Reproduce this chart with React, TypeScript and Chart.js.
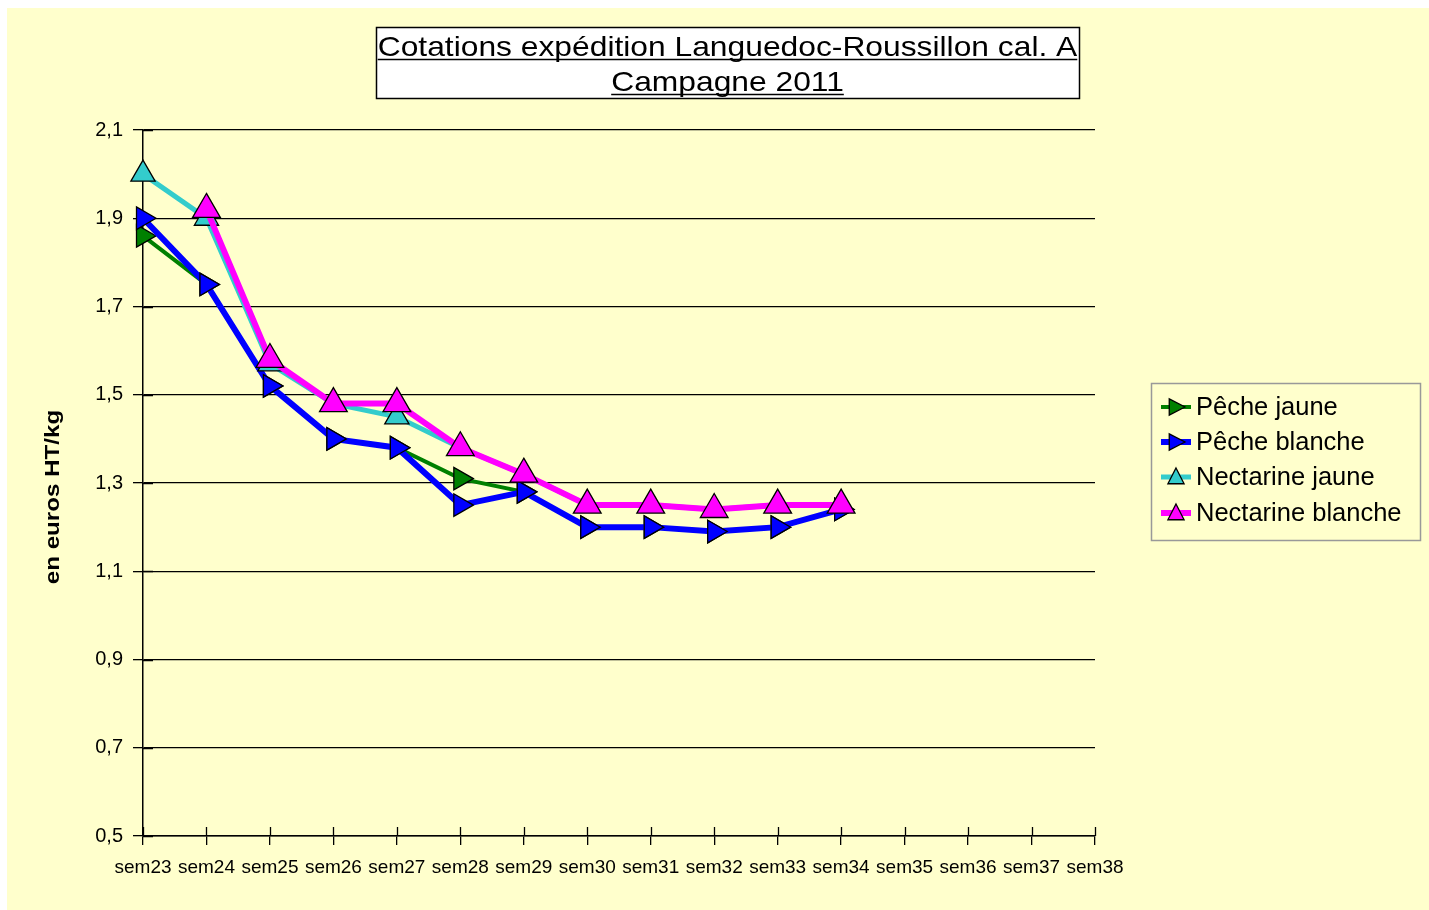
import React, { useEffect, useRef } from "react";
import { Chart, registerables } from "chart.js";
Chart.register(...registerables);

const categories = ["sem23", "sem24", "sem25", "sem26", "sem27", "sem28", "sem29", "sem30", "sem31", "sem32", "sem33", "sem34", "sem35", "sem36", "sem37", "sem38"];
const pecheJaune = [1.86, 1.75, 1.52, 1.40, 1.38, 1.31, 1.28, 1.20, 1.20, 1.19, 1.20, 1.24, null, null, null, null];
const pecheBlanche = [1.90, 1.75, 1.52, 1.40, 1.38, 1.25, 1.28, 1.20, 1.20, 1.19, 1.20, 1.24, null, null, null, null];
const nectarineJaune = [2.00, 1.90, 1.57, 1.48, 1.45, 1.38, 1.32, 1.25, 1.25, 1.24, 1.25, 1.25, null, null, null, null];
const nectarineBlanche = [null, 1.92, 1.58, 1.48, 1.48, 1.38, 1.32, 1.25, 1.25, 1.24, 1.25, 1.25, null, null, null, null];
const seriesNames = ["Pêche jaune", "Pêche blanche", "Nectarine jaune", "Nectarine blanche"];
const yTicks = [0.5, 0.7, 0.9, 1.1, 1.3, 1.5, 1.7, 1.9, 2.1];
const titleLines = ["Cotations expédition Languedoc-Roussillon cal. A", "Campagne 2011"];
const yAxisTitle = "en euros HT/kg";

const FONT = "'Liberation Sans', Arial, sans-serif";

function tri(ctx: CanvasRenderingContext2D, x: number, y: number, r: number, rot: number, fill: string) {
  ctx.save();
  ctx.translate(x, y);
  ctx.rotate(rot);
  ctx.beginPath();
  ctx.moveTo(0, -r);
  ctx.lineTo(r * 0.9, r * 0.75);
  ctx.lineTo(-r * 0.9, r * 0.75);
  ctx.closePath();
  ctx.fillStyle = fill;
  ctx.fill();
  ctx.lineWidth = 1.3;
  ctx.strokeStyle = "#000";
  ctx.stroke();
  ctx.restore();
}

const decorPlugin = {
  id: "decor",
  beforeDraw(chart: any) {
    const ctx = chart.ctx as CanvasRenderingContext2D;
    ctx.save();
    ctx.fillStyle = "#ffffff";
    ctx.fillRect(0, 0, chart.width, chart.height);
    ctx.fillStyle = "#ffffcc";
    ctx.fillRect(7, 8, chart.width - 7, chart.height - 8);
    ctx.restore();
  },
  beforeDatasetsDraw(chart: any) {
    const ctx = chart.ctx as CanvasRenderingContext2D;
    const xs = chart.scales.x;
    const ys = chart.scales.y;
    ctx.save();
    ctx.strokeStyle = "#000";
    ctx.lineWidth = 1.3;
    ctx.beginPath();
    for (let i = 0; i < categories.length; i++) {
      const px = Math.round(xs.getPixelForValue(i)) + 0.5;
      ctx.moveTo(px, ys.bottom);
      ctx.lineTo(px, ys.bottom - 9);
    }
    for (const t of yTicks) {
      const py = Math.round(ys.getPixelForValue(t)) + 0.5;
      ctx.moveTo(xs.left, py);
      ctx.lineTo(xs.left + 10, py);
    }
    ctx.stroke();
    ctx.restore();
  },
  afterDraw(chart: any) {
    const ctx = chart.ctx as CanvasRenderingContext2D;
    ctx.save();
    // Title box
    ctx.fillStyle = "#ffffff";
    ctx.fillRect(376, 27, 703, 71);
    ctx.strokeStyle = "#000";
    ctx.lineWidth = 1.5;
    ctx.strokeRect(376.5, 27.5, 703, 71);
    ctx.fillStyle = "#000";
    ctx.font = `28px ${FONT}`;
    ctx.textAlign = "center";
    ctx.textBaseline = "alphabetic";
    const cx = 727.5;
    const bases = [56, 91];
    const sx = 1.135;
    titleLines.forEach((line, i) => {
      ctx.save();
      ctx.translate(cx, bases[i]);
      ctx.scale(sx, 1);
      ctx.fillText(line, 0, 0);
      ctx.restore();
      const w = ctx.measureText(line).width * sx;
      ctx.beginPath();
      ctx.lineWidth = 1.5;
      ctx.moveTo(cx - w / 2, bases[i] + 3.5);
      ctx.lineTo(cx + w / 2, bases[i] + 3.5);
      ctx.stroke();
    });
    // Y axis title
    ctx.save();
    ctx.translate(53, 497);
    ctx.rotate(-Math.PI / 2);
    ctx.scale(1.15, 1);
    ctx.font = `bold 21px ${FONT}`;
    ctx.textAlign = "center";
    ctx.textBaseline = "middle";
    ctx.fillText(yAxisTitle, 0, 0);
    ctx.restore();
    // Legend
    ctx.fillStyle = "#ffffcc";
    ctx.fillRect(1151, 383, 269, 157);
    ctx.strokeStyle = "#999999";
    ctx.lineWidth = 1.5;
    ctx.strokeRect(1151.5, 383.5, 269, 157);
    const rows = [407, 442, 477, 513];
    chart.data.datasets.forEach((ds: any, i: number) => {
      const y = rows[i];
      ctx.beginPath();
      ctx.strokeStyle = ds.borderColor;
      ctx.lineWidth = ds.borderWidth;
      ctx.moveTo(1161, y);
      ctx.lineTo(1191, y);
      ctx.stroke();
      tri(ctx, 1176, y, 9, ds.pointRotation * Math.PI / 180, ds.pointBackgroundColor);
      ctx.fillStyle = "#000";
      ctx.font = `25.5px ${FONT}`;
      ctx.textAlign = "left";
      ctx.textBaseline = "middle";
      ctx.fillText(ds.label, 1196, y + 1);
    });
    ctx.restore();
  },
};

export default function App() {
  const ref = useRef<HTMLCanvasElement | null>(null);
  useEffect(() => {
    document.body.style.margin = "0";
    const canvas = ref.current!;
    const mk = (label: string, data: any[], color: string, width: number, rot: number, r: number, order: number) => ({
      label,
      data,
      borderColor: color,
      backgroundColor: color,
      borderWidth: width,
      pointStyle: "triangle",
      pointRotation: rot,
      pointRadius: r,
      pointBackgroundColor: color,
      pointBorderColor: "#000",
      pointBorderWidth: 1.3,
      tension: 0,
      spanGaps: false,
      order,
    });
    const chart = new Chart(canvas, {
      type: "line",
      data: {
        labels: categories,
        datasets: [
          mk(seriesNames[0], pecheJaune, "#008000", 4, 90, 13, 4),
          mk(seriesNames[1], pecheBlanche, "#0000ff", 6, 90, 13, 3),
          mk(seriesNames[2], nectarineJaune, "#33cccc", 5, 0, 14, 2),
          mk(seriesNames[3], nectarineBlanche, "#ff00ff", 6, 0, 16, 1),
        ],
      },
      options: {
        animation: false,
        responsive: false,
        layout: { padding: { left: 0, top: 130, right: 334, bottom: 0 } },
        plugins: { legend: { display: false }, title: { display: false }, tooltip: { enabled: false } },
        scales: {
          x: {
            type: "category",
            offset: false,
            afterFit: (s: any) => { s.height = 74; },
            grid: { drawOnChartArea: false, drawTicks: true, tickLength: 9, color: "#000", lineWidth: 1.3 },
            border: { display: true, color: "#000", width: 1.5 },
            ticks: { color: "#000", font: { family: FONT, size: 19 }, padding: 11, maxRotation: 0, autoSkip: false },
          },
          y: {
            type: "linear",
            min: 0.5,
            max: 2.1,
            afterFit: (s: any) => { s.width = 143; },
            afterBuildTicks: (s: any) => { s.ticks = yTicks.map((v) => ({ value: v })); },
            grid: { drawOnChartArea: true, drawTicks: true, tickLength: 10, color: "#000", lineWidth: 1.3 },
            border: { display: true, color: "#000", width: 1.5 },
            ticks: {
              color: "#000",
              font: { family: FONT, size: 20 },
              padding: 10,
              callback: (v: any) => Number(v).toFixed(1).replace(".", ","),
            },
          },
        },
      },
      plugins: [decorPlugin],
    } as any);
    return () => chart.destroy();
  }, []);
  return (
    <div style={{ width: 1429, height: 910 }}>
      <canvas ref={ref} width={1429} height={910} style={{ display: "block" }} />
    </div>
  );
}
